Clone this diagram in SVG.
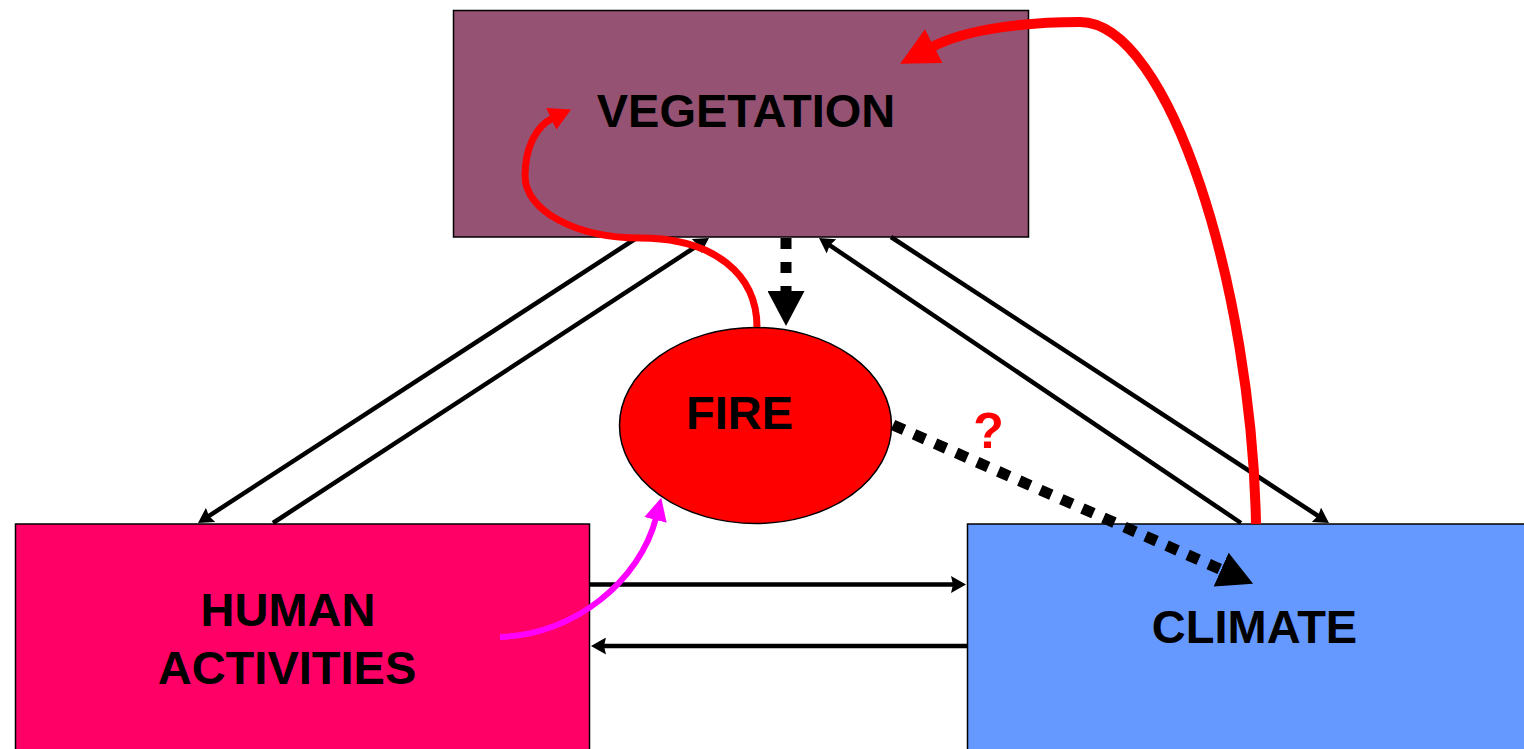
<svg xmlns="http://www.w3.org/2000/svg" width="1524" height="749" viewBox="0 0 1524 749">
<style>
.lbl{font-family:"Liberation Sans",Arial,sans-serif;font-weight:bold;font-size:47px;fill:#000;text-anchor:middle}
.box{stroke:#000;stroke-width:1.5}
.blk{fill:none;stroke:#000;stroke-width:4.5}
.dot{fill:none;stroke:#000;stroke-width:11}
</style>
<defs>
<marker id="ab" markerUnits="userSpaceOnUse" viewBox="0 0 15 17" refX="5" refY="8.5" markerWidth="15" markerHeight="17" orient="auto">
<path d="M0,0 L15,8.5 L0,17 L2,8.5 z" fill="#000"/>
</marker>
<marker id="adot" markerUnits="userSpaceOnUse" viewBox="0 0 35 37" refX="1" refY="18.5" markerWidth="35" markerHeight="37" orient="auto">
<path d="M0,0 L35,18.5 L0,37 z" fill="#000"/>
</marker>
<marker id="ared" markerUnits="userSpaceOnUse" viewBox="0 0 38 38" refX="2" refY="19" markerWidth="38" markerHeight="38" orient="auto">
<path d="M0,0 L38,19 L0,38 z" fill="#FF0000"/>
</marker>
<marker id="ared2" markerUnits="userSpaceOnUse" viewBox="0 0 22 24" refX="2" refY="12" markerWidth="22" markerHeight="24" orient="auto">
<path d="M0,0 L22,12 L0,24 z" fill="#FF0000"/>
</marker>
<marker id="amag" markerUnits="userSpaceOnUse" viewBox="0 0 23 23" refX="2" refY="11.5" markerWidth="23" markerHeight="23" orient="auto">
<path d="M0,0 L23,11.5 L0,23 z" fill="#FF00FF"/>
</marker>
</defs>

<g id="vegetation">
<rect class="box" x="453.5" y="10.5" width="575" height="226.5" fill="#965273"/>
<text class="lbl" x="746" y="127">VEGETATION</text>
</g>
<g id="human-activities">
<rect class="box" x="15.5" y="524" width="574" height="240" fill="#FF0066"/>
<text class="lbl" x="288" y="626">HUMAN</text>
<text class="lbl" x="287" y="684">ACTIVITIES</text>
</g>
<g id="climate">
<rect class="box" x="967.5" y="524" width="570" height="240" fill="#6699FF"/>
<text class="lbl" x="1254.5" y="643">CLIMATE</text>
</g>
<g id="fire">
<ellipse class="box" cx="755.5" cy="425.5" rx="136" ry="98" fill="#FF0000"/>
<text class="lbl" x="739.5" y="429">FIRE</text>
</g>

<g id="connectors">
<line class="blk" x1="635" y1="239" x2="206.4" y2="517.6" marker-end="url(#ab)"/>
<line class="blk" x1="273" y1="523" x2="700.6" y2="243.5" marker-end="url(#ab)"/>
<line class="blk" x1="891" y1="237" x2="1320.6" y2="517.5" marker-end="url(#ab)"/>
<line class="blk" x1="1241" y1="523" x2="827.3" y2="243.6" marker-end="url(#ab)"/>
<line class="blk" x1="590" y1="584.5" x2="956" y2="584.5" marker-end="url(#ab)"/>
<line class="blk" x1="967" y1="646" x2="601" y2="646" marker-end="url(#ab)"/>
<path class="dot" d="M786,238 L786,292" stroke-dasharray="11,13" marker-end="url(#adot)"/>
<path class="dot" d="M893,425 L1222,570" stroke-dasharray="12,11" marker-end="url(#adot)"/>
<path d="M1256,524 C1252,290 1170,22 1080,22 C1030,22 968,28 932,47" fill="none" stroke="#FF0000" stroke-width="10" marker-end="url(#ared)"/>
<path d="M757,327 C757,275 715,238 640,238 C575,238 525,210 525,176 C525,148 536,126 553,118" fill="none" stroke="#FF0000" stroke-width="7" marker-end="url(#ared2)"/>
<path d="M500,637 C575,635 640,580 656,518" fill="none" stroke="#FF00FF" stroke-width="6" marker-end="url(#amag)"/>
<text x="988.5" y="448" font-family="Liberation Sans, Arial, sans-serif" font-weight="bold" font-size="50" fill="#FF0000" text-anchor="middle">?</text>
</g>
</svg>
